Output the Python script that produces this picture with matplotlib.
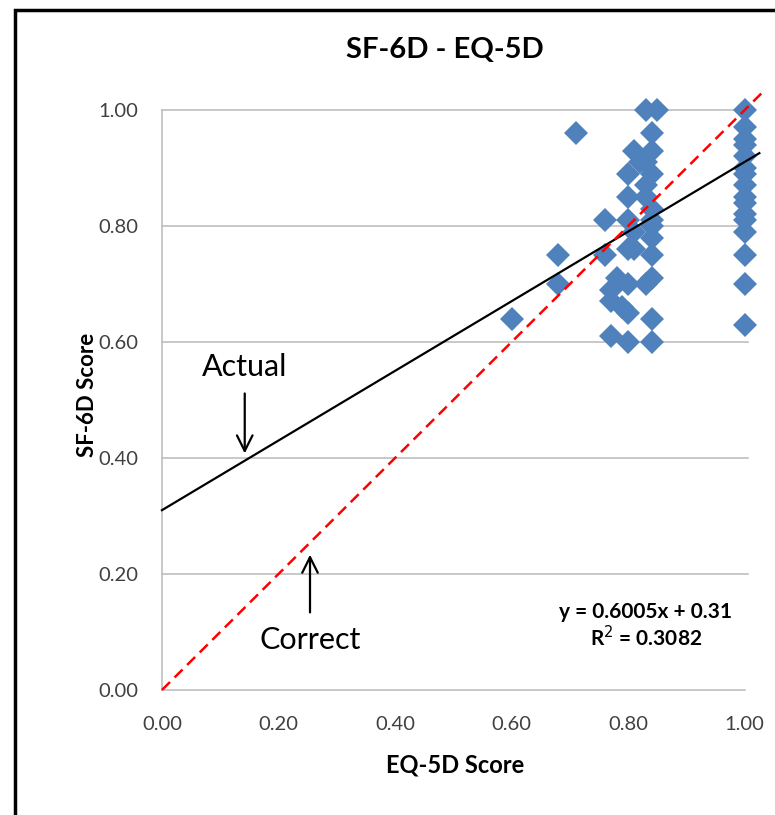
import matplotlib.pyplot as plt
from matplotlib.patches import Rectangle

plt.rcParams['font.family'] = ['Lato', 'DejaVu Sans']

# EQ-5D (x) against SF-6D (y) for each respondent
eq5d = [0.60, 0.68, 0.68, 0.71, 0.76, 0.76, 0.77, 0.77, 0.77, 0.78,
        0.79, 0.80, 0.80, 0.80, 0.80, 0.80, 0.80, 0.80, 0.81, 0.81,
        0.81, 0.82, 0.83, 0.83, 0.85, 0.84, 0.84, 0.84, 0.83, 0.84,
        0.84, 0.84, 0.84, 0.84, 0.84, 0.83, 0.84, 0.84, 0.83,
        1.00, 1.00, 1.00, 1.00, 1.00, 1.00, 1.00, 1.00, 1.00, 1.00,
        1.00, 1.00, 1.00, 1.00, 1.00, 1.00]
sf6d = [0.64, 0.75, 0.70, 0.96, 0.81, 0.75, 0.69, 0.67, 0.61, 0.71,
        0.66, 0.89, 0.85, 0.81, 0.76, 0.70, 0.65, 0.60, 0.93, 0.79,
        0.76, 0.91, 0.91, 1.00, 1.00, 0.96, 0.93, 0.89, 0.85, 0.83,
        0.81, 0.80, 0.78, 0.75, 0.71, 0.70, 0.64, 0.60, 0.87,
        1.00, 0.97, 0.95, 0.94, 0.92, 0.90, 0.89, 0.87, 0.85, 0.84,
        0.82, 0.81, 0.79, 0.75, 0.70, 0.63]

slope = 0.6005
intercept = 0.31
r2 = 0.3082

ticks = [0.0, 0.2, 0.4, 0.6, 0.8, 1.0]
tick_labels = ["0.00", "0.20", "0.40", "0.60", "0.80", "1.00"]

fig = plt.figure(figsize=(7.75, 8.15), dpi=100)
ax = fig.add_axes([0.209, 0.1534, 0.752, 0.7117])

# outer frame, runs off the right and bottom edges
fig.patches.append(Rectangle((15 / 775, -0.05), 1.2, 1.05 - 10 / 815,
                             transform=fig.transFigure, fill=False,
                             edgecolor='black', linewidth=2.5))

for t in ticks[1:]:
    ax.axhline(t, color='#bfbfbf', linewidth=1.2, zorder=0, xmax=1.005, clip_on=False)

ax.plot(eq5d, sf6d, linestyle='none', marker='D', markersize=12,
        color='#4F81BD', markeredgewidth=0, clip_on=False, zorder=2)

# trend line and line of equality
xs = [0.0, 1.025]
ax.plot(xs, [slope * x + intercept for x in xs], color='black', linewidth=1.6,
        clip_on=False, zorder=3)
ax.plot([0.0, 1.03], [0.0, 1.03], color='red', linewidth=1.8,
        linestyle=(0, (4.5, 2.6)), clip_on=False, zorder=3)

ax.set_xlim(0, 1.0)
ax.set_ylim(0, 1.0)
ax.set_xticks(ticks)
ax.set_yticks(ticks)
ax.set_xticklabels(tick_labels)
ax.set_yticklabels(tick_labels)
ax.tick_params(length=0, labelsize=14.5, labelcolor='#404040')
ax.tick_params(axis='y', pad=17)
ax.tick_params(axis='x', pad=19)

for side in ['top', 'right']:
    ax.spines[side].set_visible(False)
for side in ['left', 'bottom']:
    ax.spines[side].set_color('#bfbfbf')
    ax.spines[side].set_linewidth(1.2)

fig.text(445 / 775, 1 - 50 / 815, "SF-6D - EQ-5D", fontsize=21,
         fontweight='bold', ha='center', va='center')
fig.text(455 / 775, 1 - 765 / 815, "EQ-5D Score", fontsize=17,
         fontweight='bold', ha='center', va='center')
fig.text(88 / 775, 1 - 395 / 815, "SF-6D Score", fontsize=16,
         fontweight='bold', ha='center', va='center', rotation=90)

ax.annotate("", xy=(0.142, 0.403), xytext=(0.142, 0.516),
            arrowprops=dict(arrowstyle='->', color='black', lw=1.6,
                            mutation_scale=28))
ax.text(0.142, 0.556, "Actual", fontsize=22, ha='center', va='center')
ax.annotate("", xy=(0.254, 0.238), xytext=(0.254, 0.129),
            arrowprops=dict(arrowstyle='->', color='black', lw=1.6,
                            mutation_scale=28))
ax.text(0.254, 0.086, "Correct", fontsize=22, ha='center', va='center')

ax.text(0.83, 0.134, "y = 0.6005x + 0.31", fontsize=15, fontweight='bold',
        ha='center', va='center')
ax.text(0.83, 0.090, "R$^2$ = 0.3082", fontsize=15, fontweight='bold',
        ha='center', va='center')

fig.savefig("out.png", dpi=100)
